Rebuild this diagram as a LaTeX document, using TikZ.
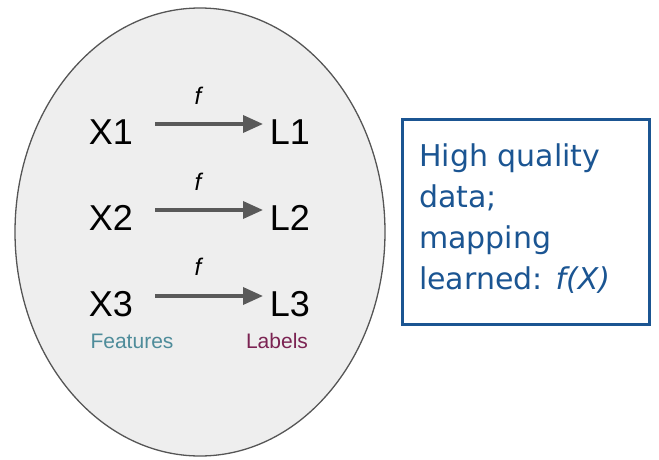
\documentclass[tikz,border=0pt]{standalone}
\usepackage{fontspec}
\setmainfont{Liberation Sans}
\newfontfamily\boxfont{DejaVu Sans}
\usetikzlibrary{arrows.meta}
\definecolor{ellfill}{HTML}{EEEEEE}
\definecolor{ellline}{HTML}{555555}
\definecolor{arrgray}{HTML}{595959}
\definecolor{boxblue}{HTML}{1B5592}
\definecolor{featcol}{HTML}{4E8C9A}
\definecolor{labcol}{HTML}{7B2352}
\begin{document}
\begin{tikzpicture}[x=1pt,y=-1pt,
  var/.style={font=\fontsize{36}{38}\selectfont, inner sep=0pt, anchor=base},
  fn/.style={font=\fontsize{24}{26}\selectfont\itshape, inner sep=0pt, anchor=base},
  mapar/.style={draw=arrgray, line width=3.5pt, -{Triangle[length=20pt,width=17pt]}},
  captext/.style={font=\fontsize{21}{23}\selectfont, inner sep=0pt, anchor=base}]
\useasboundingbox (0,0) rectangle (659,460);
\draw[fill=ellfill, draw=ellline, line width=1.3pt] (200,232) ellipse [x radius=185, y radius=224];
% row nodes
\node[var] (x1) at (111,144) {X1};
\node[var] (l1) at (290,144) {L1};
\node[var] (x2) at (111,230) {X2};
\node[var] (l2) at (290,230) {L2};
\node[var] (x3) at (111,316) {X3};
\node[var] (l3) at (290,316) {L3};
\coordinate (a1s) at (155,124); \coordinate (a1e) at (263,124);
\coordinate (a2s) at (155,210); \coordinate (a2e) at (263,210);
\coordinate (a3s) at (155,296); \coordinate (a3e) at (263,296);
\draw[mapar] (a1s) -- (a1e);
\draw[mapar] (a2s) -- (a2e);
\draw[mapar] (a3s) -- (a3e);
\node[fn] (f1) at (198,105) {f};
\node[fn] (f2) at (198,190) {f};
\node[fn] (f3) at (198,275) {f};
\node[captext, text=featcol] (feat) at (132,348) {Features};
\node[captext, text=labcol] (lab) at (277,348) {Labels};
% box
\draw[draw=boxblue, line width=3pt] (402,119) rectangle (649,324);
\node[anchor=north west, inner sep=0pt, text=boxblue, align=left,
  font=\boxfont\fontsize{30}{41}\selectfont] (txt) at (419,144)
  {High quality\\data;\\mapping\\learned: \textit{f(X)}};
\end{tikzpicture}
\end{document}
